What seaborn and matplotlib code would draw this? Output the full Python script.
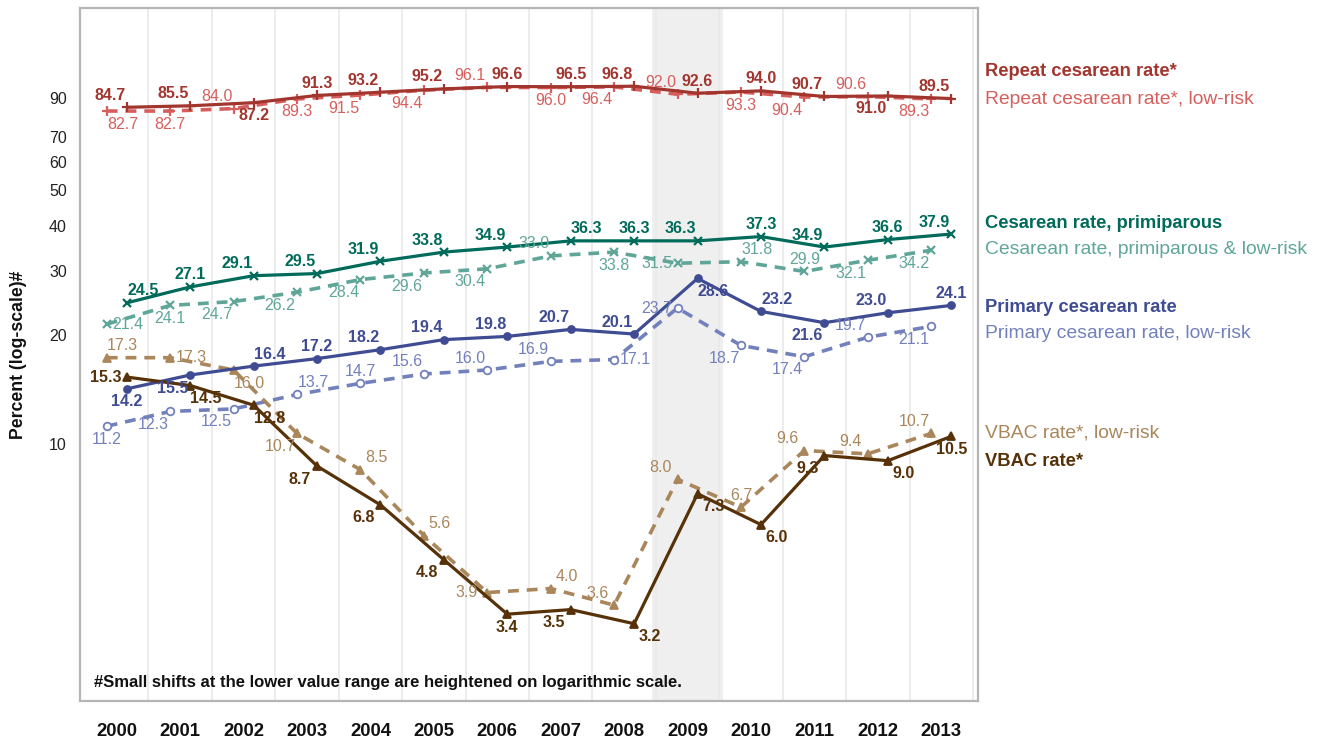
import matplotlib
matplotlib.use("Agg")
import matplotlib.pyplot as plt
import seaborn as sns
import pandas as pd
from matplotlib.ticker import FixedLocator, NullLocator, FixedFormatter

# ---------------- data ----------------
years = list(range(2000, 2014))
repeat_rate = [84.7, 85.5, 87.2, 91.3, 93.2, 95.2, 96.6, 96.5, 96.8, 92.6, 94.0, 90.7, 91.0, 89.5]
repeat_lowrisk = [82.7, 82.7, 84.0, 89.3, 91.5, 94.4, 96.1, 96.0, 96.4, 92.0, 93.3, 90.4, 90.6, 89.3]
primip_rate = [24.5, 27.1, 29.1, 29.5, 31.9, 33.8, 34.9, 36.3, 36.3, 36.3, 37.3, 34.9, 36.6, 37.9]
primip_lowrisk = [21.4, 24.1, 24.7, 26.2, 28.4, 29.6, 30.4, 33.0, 33.8, 31.5, 31.8, 29.9, 32.1, 34.2]
primary_rate = [14.2, 15.5, 16.4, 17.2, 18.2, 19.4, 19.8, 20.7, 20.1, 28.6, 23.2, 21.6, 23.0, 24.1]
primary_lowrisk = [11.2, 12.3, 12.5, 13.7, 14.7, 15.6, 16.0, 16.9, 17.1, 23.7, 18.7, 17.4, 19.7, 21.1]
vbac_rate = [15.3, 14.5, 12.8, 8.7, 6.8, 4.8, 3.4, 3.5, 3.2, 7.3, 6.0, 9.3, 9.0, 10.5]
vbac_lowrisk = [17.3, 17.3, 16.0, 10.7, 8.5, 5.6, 3.9, 4.0, 3.6, 8.0, 6.7, 9.6, 9.4, 10.7]

series_names = [
    "Repeat cesarean rate*", "Repeat cesarean rate*, low-risk",
    "Cesarean rate, primiparous", "Cesarean rate, primiparous & low-risk",
    "Primary cesarean rate", "Primary cesarean rate, low-risk",
    "VBAC rate*, low-risk", "VBAC rate*",
]
y_ticks = [10, 20, 30, 40, 50, 60, 70, 80, 90]
y_tick_labels = ["10", "20", "30", "40", "50", "60", "70", "", "90"]
note_text = "#Small shifts at the lower value range are heightened on logarithmic scale."
y_title = "Percent (log-scale)#"

# ---------------- style ----------------
sns.set_style("white")
FAM = ["Liberation Sans", "DejaVu Sans"]
plt.rcParams["font.family"] = FAM

# label placement codes: l/r horizontal, a/b/m vertical
place = {
    "Repeat cesarean rate*": ['la','la','b','a','la','la','a','a','la','a','a','la','lb','la'],
    "Repeat cesarean rate*, low-risk": ['rb','b','la','b','lb','lb','la','b','lb','la','b','lb','la','lb'],
    "Cesarean rate, primiparous": ['ra','a','la','la','la','la','la','ra','a','la','a','la','a','la'],
    "Cesarean rate, primiparous & low-risk": ['rm','b','lb','lb','lb','lb','lb','la','b','lm','ra','a','lb','lb'],
    "Primary cesarean rate": ['b','lb','ra','a','la','la','la','la','la','rb','ra','lb','la','a'],
    "Primary cesarean rate, low-risk": ['b','lb','lb','ra','a','la','la','la','rm','lm','lb','lb','la','lb'],
    "VBAC rate*, low-risk": ['ra','rm','rb','lb','ra','ra','lm','ra','la','la','a','la','la','la'],
    "VBAC rate*": ['lm','rb','rb','lb','lb','lb','b','lb','rb','rb','rb','lb','rb','b'],
}

spec = {
    # values, color, solid, marker, markersize, facecolor
    "Repeat cesarean rate*": (repeat_rate, "#a2362f", True, "+", 7, None),
    "Repeat cesarean rate*, low-risk": (repeat_lowrisk, "#d65f5d", False, "+", 7, None),
    "Cesarean rate, primiparous": (primip_rate, "#006b5b", True, "x", 6, None),
    "Cesarean rate, primiparous & low-risk": (primip_lowrisk, "#5fa698", False, "x", 6, None),
    "Primary cesarean rate": (primary_rate, "#3f4b92", True, "o", 5, "fill"),
    "Primary cesarean rate, low-risk": (primary_lowrisk, "#7280bc", False, "o", 5.5, "white"),
    "VBAC rate*, low-risk": (vbac_lowrisk, "#aa865b", False, "^", 6, "fill"),
    "VBAC rate*": (vbac_rate, "#573209", True, "^", 6, "fill"),
}

legend_y_px = {
    "Repeat cesarean rate*": 72, "Repeat cesarean rate*, low-risk": 99,
    "Cesarean rate, primiparous": 223, "Cesarean rate, primiparous & low-risk": 250,
    "Primary cesarean rate": 307, "Primary cesarean rate, low-risk": 333,
    "VBAC rate*, low-risk": 433, "VBAC rate*": 462,
}

W, H = 1328, 742
fig = plt.figure(figsize=(W / 100, H / 100), dpi=100)
ax = fig.add_axes([80 / W, 1 - 701 / H, (978 - 80) / W, (701 - 8) / H])

# highlight band and vertical grid between years
ax.axvspan(2008.44, 2009.56, color="#efefef", zorder=0, lw=0)
for gx in [y + 0.5 for y in years]:
    ax.axvline(gx, color="#e9e9e9", lw=1.2, zorder=0.5)

PX = 72 / 100.0  # px -> pt
for name in series_names:
    vals, color, solid, marker, ms, fc = spec[name]
    shift = 0.158 if solid else -0.158
    df = pd.DataFrame({"x": [y + shift for y in years], "y": vals})
    kw = dict(color=color, lw=2.3 if solid else 2.6, marker=marker, markersize=ms,
              markeredgecolor=color, zorder=3 if solid else 2.5)
    if marker in ("+", "x"):
        kw["markeredgewidth"] = 1.6
    else:
        kw["markerfacecolor"] = color if fc == "fill" else fc
        kw["markeredgewidth"] = 1.3
    if not solid:
        kw["linestyle"] = (0, (3.0, 2.2))
    sns.lineplot(data=df, x="x", y="y", ax=ax, **kw)

    for xv, yv, code in zip(df["x"], df["y"], place[name]):
        dx = 0
        dy = 0
        if "a" in code:
            dy = 12
        elif "b" in code:
            dy = -13
        if "l" in code:
            dx = -21 if "m" in code else -17
        elif "r" in code:
            dx = 21 if "m" in code else 16
        ax.annotate(f"{yv:.1f}", (xv, yv), xytext=(dx * PX, dy * PX),
                    textcoords="offset points", ha="center", va="center",
                    fontsize=11.5, color=color, zorder=4,
                    fontweight="bold" if solid else "normal")

    fig.text(985 / W, 1 - legend_y_px[name] / H, name, color=color,
             fontsize=13.2 if solid else 13.9, va="center", ha="left",
             fontweight="bold" if solid else "normal")

ax.set_yscale("log")
ax.set_ylim(1.96, 159)
ax.set_xlim(1999.42, 2013.58)
ax.yaxis.set_major_locator(FixedLocator(y_ticks))
ax.yaxis.set_major_formatter(FixedFormatter(y_tick_labels))
ax.yaxis.set_minor_locator(NullLocator())
ax.set_xticks(years)
ax.set_xticklabels([str(y) for y in years], fontweight="bold", fontsize=13.3)
ax.tick_params(axis="x", length=7.5, width=1.3, color="#aaaaaa", pad=8, labelcolor="#111111")
ax.tick_params(axis="y", length=6, width=1.3, color="#aaaaaa", pad=3.5,
               labelsize=11.5, labelcolor="#222222")
ax.tick_params(which="minor", length=0)
ax.set_xlabel("")
ax.set_ylabel(y_title, fontsize=12.7, fontweight="bold", color="#111111")
ax.yaxis.set_label_coords(-53 / 898, 0.5)
for s in ax.spines.values():
    s.set_visible(True)
    s.set_color("#b5b5b5")
    s.set_linewidth(1.6)
ax.grid(False)
ax.text(14 / 898, (701 - 682) / 693, note_text, transform=ax.transAxes,
        fontsize=12, fontweight="bold", color="#111111", ha="left", va="center")

fig.savefig("out.png", dpi=100)
